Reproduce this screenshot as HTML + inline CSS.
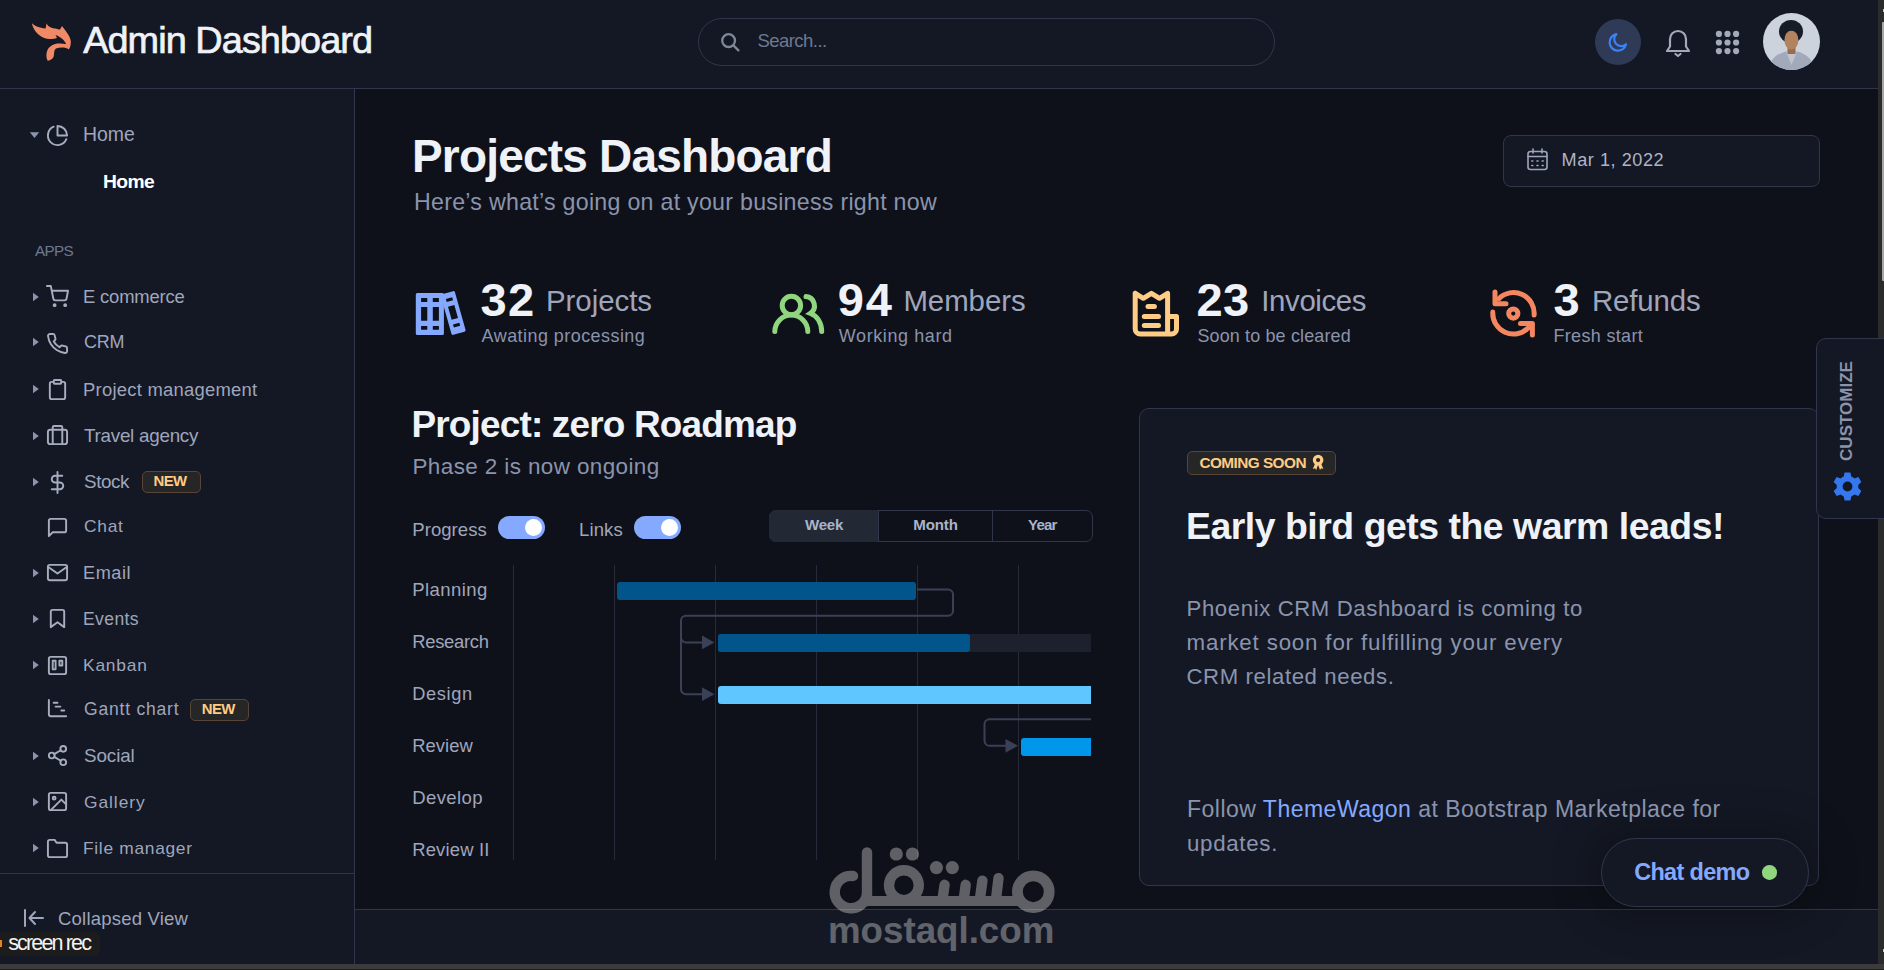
<!DOCTYPE html>
<html><head><meta charset="utf-8">
<style>
*{box-sizing:border-box}
html,body{margin:0;padding:0}
body{width:1884px;height:970px;overflow:hidden;position:relative;background:#0f111a;font-family:"Liberation Sans",sans-serif}
.a{position:absolute}
.t{position:absolute;white-space:nowrap}
svg.i{position:absolute;overflow:visible}
</style></head><body>
<!-- panels -->
<div class="a" style="left:0;top:0;width:1878px;height:88px;background:#141824"></div>
<div class="a" style="left:0;top:88px;width:1878px;height:1px;background:#31374a"></div>
<div class="a" style="left:0;top:89px;width:354px;height:875px;background:#141824"></div>
<div class="a" style="left:354px;top:89px;width:1px;height:875px;background:#31374a"></div>
<div class="a" style="left:0;top:873px;width:354px;height:1px;background:#31374a"></div>
<div class="a" style="left:355px;top:909px;width:1523px;height:1px;background:#31374a"></div>
<div class="a" style="left:355px;top:910px;width:1523px;height:54px;background:#141824"></div>
<!-- scrollbars -->
<div class="a" style="left:1878px;top:0;width:6px;height:964px;background:#2b2b2b"></div>
<div class="a" style="left:1882px;top:22px;width:2px;height:259px;background:#a6a6a6;border-radius:1px 0 0 1px"></div>
<div class="a" style="left:1883px;top:9px;width:1px;height:3px;background:#c8c8c8"></div>
<div class="a" style="left:1883px;top:949px;width:1px;height:3px;background:#c8c8c8"></div>
<div class="a" style="left:0;top:964px;width:1884px;height:5px;background:#3b3b3b"></div>
<div class="a" style="left:0;top:969px;width:1884px;height:1px;background:#1e1e1e"></div>

<!-- logo -->
<svg class="i" style="left:26px;top:16px" width="54" height="50" viewBox="0 0 54 50">
<path fill="#f08a66" d="M5.9 7.2 C9 10,13 12,19.6 12.4 L20.6 7.2 C21.5 10,24 11.5,29 12.5 C31 13,33 13.5,34 13.5 L36 10 C38 13,44 19,44.8 25 C45 29,44 32,42.8 33.5 C40 31,34 31,30 32.5 C27.5 34,28.5 39,27.5 41 C26 43.5,23.5 44.8,21.6 44.8 C20 42,20 37,21.5 34 C23.5 30,28 27.5,33 27.5 C36 27.5,39 28.3,40 27.7 C38 24,35 21,29.5 19 L31 22 C27 23.5,22 23.5,17 21.5 C11 18.5,7 13,5.9 7.2 Z"/>
</svg>

<!-- search -->
<div class="a" style="left:698px;top:18px;width:577px;height:48px;border:1px solid #31374a;border-radius:24px"></div>
<svg class="i" style="left:720px;top:32px" width="21" height="21" viewBox="0 0 21 21" fill="none" stroke="#7f8799" stroke-width="2.3" stroke-linecap="round">
<circle cx="8.6" cy="8.6" r="6.4"/><line x1="13.4" y1="13.4" x2="18.4" y2="18.4"/></svg>

<!-- right header icons -->
<div class="a" style="left:1595px;top:19px;width:46px;height:46px;border-radius:50%;background:#2f3a57"></div>
<svg class="i" style="left:1606px;top:30px" width="24" height="24" viewBox="0 0 24 24" fill="none" stroke="#3a82f7" stroke-width="2.2" stroke-linecap="round" stroke-linejoin="round">
<path d="M20 14.2A8.3 8.3 0 1 1 10.3 4.2 6.6 6.6 0 0 0 20 14.2z"/></svg>
<svg class="i" style="left:1665px;top:28px" width="26" height="29" viewBox="0 0 26 29" fill="none" stroke="#a3a9b8" stroke-width="2.2" stroke-linecap="round" stroke-linejoin="round">
<path d="M2 23 H24 L21 18.5 V11 A8 8 0 0 0 5 11 V18.5 Z"/><path d="M10.5 26 L13 28 L15.5 26"/></svg>
<svg class="i" style="left:1715px;top:30px" width="25" height="25" viewBox="0 0 25 25" fill="#a3a9b8">
<circle cx="3.9" cy="3.9" r="3.1"/><circle cx="12.5" cy="3.9" r="3.1"/><circle cx="21.1" cy="3.9" r="3.1"/>
<circle cx="3.9" cy="12.5" r="3.1"/><circle cx="12.5" cy="12.5" r="3.1"/><circle cx="21.1" cy="12.5" r="3.1"/>
<circle cx="3.9" cy="21.1" r="3.1"/><circle cx="12.5" cy="21.1" r="3.1"/><circle cx="21.1" cy="21.1" r="3.1"/></svg>
<svg class="i" style="left:1763px;top:13px" width="57" height="57" viewBox="0 0 57 57">
<defs><clipPath id="av"><circle cx="28.5" cy="28.5" r="28.5"/></clipPath></defs>
<g clip-path="url(#av)">
<rect width="57" height="57" fill="#cdd3dc"/>
<path d="M5 57 C7 46,14 41,22.5 38.5 L34.5 38.5 C43 41,50 46,52 57 Z" fill="#a1a9bb"/>
<path d="M23 38.5 L28.5 52 L34 38.5 Z" fill="#bfc5d0"/>
<rect x="24.5" y="32" width="8" height="9" fill="#9a6a4a"/>
<ellipse cx="28" cy="18.5" rx="12" ry="11.5" fill="#171c27"/>
<ellipse cx="28.4" cy="27" rx="7" ry="9.5" fill="#b3825f"/>
<path d="M20 21 C21 15,24 13.5,28.5 13.5 C33 13.5,36 15,37 21 C34 18,31 17.5,28.5 17.5 C26 17.5,23 18,20 21Z" fill="#171c27"/>
</g></svg>

<!-- sidebar carets -->
<svg class="i" style="left:29px;top:131px" width="11" height="8" viewBox="0 0 11 8"><path d="M0.8 1.2 H10.2 L5.5 7 Z" fill="#8a94ad"/></svg>
<svg class="i" style="left:32px;top:291.60px" width="8" height="10" viewBox="0 0 8 10"><path d="M1 0.8 V9.2 L6.8 5 Z" fill="#8a94ad"/></svg>
<svg class="i" style="left:32px;top:337.40px" width="8" height="10" viewBox="0 0 8 10"><path d="M1 0.8 V9.2 L6.8 5 Z" fill="#8a94ad"/></svg>
<svg class="i" style="left:32px;top:384.30px" width="8" height="10" viewBox="0 0 8 10"><path d="M1 0.8 V9.2 L6.8 5 Z" fill="#8a94ad"/></svg>
<svg class="i" style="left:32px;top:431.00px" width="8" height="10" viewBox="0 0 8 10"><path d="M1 0.8 V9.2 L6.8 5 Z" fill="#8a94ad"/></svg>
<svg class="i" style="left:32px;top:476.80px" width="8" height="10" viewBox="0 0 8 10"><path d="M1 0.8 V9.2 L6.8 5 Z" fill="#8a94ad"/></svg>
<svg class="i" style="left:32px;top:567.80px" width="8" height="10" viewBox="0 0 8 10"><path d="M1 0.8 V9.2 L6.8 5 Z" fill="#8a94ad"/></svg>
<svg class="i" style="left:32px;top:613.60px" width="8" height="10" viewBox="0 0 8 10"><path d="M1 0.8 V9.2 L6.8 5 Z" fill="#8a94ad"/></svg>
<svg class="i" style="left:32px;top:660.00px" width="8" height="10" viewBox="0 0 8 10"><path d="M1 0.8 V9.2 L6.8 5 Z" fill="#8a94ad"/></svg>
<svg class="i" style="left:32px;top:750.50px" width="8" height="10" viewBox="0 0 8 10"><path d="M1 0.8 V9.2 L6.8 5 Z" fill="#8a94ad"/></svg>
<svg class="i" style="left:32px;top:796.80px" width="8" height="10" viewBox="0 0 8 10"><path d="M1 0.8 V9.2 L6.8 5 Z" fill="#8a94ad"/></svg>
<svg class="i" style="left:32px;top:843.20px" width="8" height="10" viewBox="0 0 8 10"><path d="M1 0.8 V9.2 L6.8 5 Z" fill="#8a94ad"/></svg>
<svg class="i" style="left:46.00px;top:124.10px" width="23" height="23" viewBox="0 0 24 24" fill="none" stroke="#a7adbf" stroke-width="2" stroke-linecap="round" stroke-linejoin="round"><path d="M21.21 15.89A10 10 0 1 1 8 2.83"/><path d="M22 12A10 10 0 0 0 12 2v10z"/></svg>
<svg class="i" style="left:46.40px;top:284.50px" width="23" height="23" viewBox="0 0 24 24" fill="none" stroke="#a7adbf" stroke-width="2" stroke-linecap="round" stroke-linejoin="round"><circle cx="9" cy="21" r="1"/><circle cx="20" cy="21" r="1"/><path d="M1 1h4l2.68 13.39a2 2 0 0 0 2 1.61h9.72a2 2 0 0 0 2-1.61L23 6H6"/></svg>
<svg class="i" style="left:46.00px;top:332.00px" width="23" height="23" viewBox="0 0 24 24" fill="none" stroke="#a7adbf" stroke-width="2" stroke-linecap="round" stroke-linejoin="round"><path d="M22 16.92v3a2 2 0 0 1-2.18 2 19.79 19.79 0 0 1-8.63-3.07 19.5 19.5 0 0 1-6-6 19.79 19.79 0 0 1-3.07-8.67A2 2 0 0 1 4.11 2h3a2 2 0 0 1 2 1.72 12.84 12.84 0 0 0 .7 2.81 2 2 0 0 1-.45 2.11L8.09 9.91a16 16 0 0 0 6 6l1.27-1.27a2 2 0 0 1 2.11-.45 12.84 12.84 0 0 0 2.81.7A2 2 0 0 1 22 16.92z"/></svg>
<svg class="i" style="left:46.00px;top:377.90px" width="23" height="23" viewBox="0 0 24 24" fill="none" stroke="#a7adbf" stroke-width="2" stroke-linecap="round" stroke-linejoin="round"><path d="M16 4h2a2 2 0 0 1 2 2v14a2 2 0 0 1-2 2H6a2 2 0 0 1-2-2V6a2 2 0 0 1 2-2h2"/><rect x="8" y="2" width="8" height="4" rx="1" ry="1"/></svg>
<svg class="i" style="left:46.00px;top:424.20px" width="23" height="23" viewBox="0 0 24 24" fill="none" stroke="#a7adbf" stroke-width="2" stroke-linecap="round" stroke-linejoin="round"><rect x="2" y="6" width="20" height="15" rx="2.5"/><path d="M7 21V3.5a1.5 1.5 0 0 1 1.5-1.5h7a1.5 1.5 0 0 1 1.5 1.5V21"/></svg>
<svg class="i" style="left:46.00px;top:471.00px" width="23" height="23" viewBox="0 0 24 24" fill="none" stroke="#a7adbf" stroke-width="2" stroke-linecap="round" stroke-linejoin="round"><line x1="12" y1="1" x2="12" y2="23"/><path d="M17 5H9.5a3.5 3.5 0 0 0 0 7h5a3.5 3.5 0 0 1 0 7H6"/></svg>
<svg class="i" style="left:46.00px;top:516.00px" width="23" height="23" viewBox="0 0 24 24" fill="none" stroke="#a7adbf" stroke-width="2" stroke-linecap="round" stroke-linejoin="round"><path d="M21 15a2 2 0 0 1-2 2H7l-4 4V5a2 2 0 0 1 2-2h14a2 2 0 0 1 2 2z"/></svg>
<svg class="i" style="left:46.10px;top:561.00px" width="23" height="23" viewBox="0 0 24 24" fill="none" stroke="#a7adbf" stroke-width="2" stroke-linecap="round" stroke-linejoin="round"><path d="M4 4h16c1.1 0 2 .9 2 2v12c0 1.1-.9 2-2 2H4c-1.1 0-2-.9-2-2V6c0-1.1.9-2 2-2z"/><polyline points="22,6 12,13 2,6"/></svg>
<svg class="i" style="left:46.10px;top:607.10px" width="23" height="23" viewBox="0 0 24 24" fill="none" stroke="#a7adbf" stroke-width="2" stroke-linecap="round" stroke-linejoin="round"><path d="M19 21l-7-5-7 5V5a2 2 0 0 1 2-2h10a2 2 0 0 1 2 2z"/></svg>
<svg class="i" style="left:46.00px;top:654.00px" width="23" height="23" viewBox="0 0 24 24" fill="none" stroke="#a7adbf" stroke-width="2" stroke-linecap="round" stroke-linejoin="round"><rect x="3" y="3" width="18" height="18" rx="2" ry="2"/><rect x="7" y="7" width="3" height="9"/><rect x="14" y="7" width="3" height="5"/></svg>
<svg class="i" style="left:45.90px;top:696.70px" width="23" height="23" viewBox="0 0 24 24" fill="none" stroke="#a7adbf" stroke-width="2" stroke-linecap="round" stroke-linejoin="round"><path d="M3 3v15a2 2 0 0 0 2 2h16"/><line x1="8" y1="6" x2="12" y2="6"/><line x1="10" y1="10" x2="15" y2="10"/><line x1="16" y1="14" x2="19" y2="14"/></svg>
<svg class="i" style="left:46.00px;top:743.90px" width="23" height="23" viewBox="0 0 24 24" fill="none" stroke="#a7adbf" stroke-width="2" stroke-linecap="round" stroke-linejoin="round"><circle cx="18" cy="5" r="3"/><circle cx="6" cy="12" r="3"/><circle cx="18" cy="19" r="3"/><line x1="8.59" y1="13.51" x2="15.42" y2="17.49"/><line x1="15.41" y1="6.51" x2="8.59" y2="10.49"/></svg>
<svg class="i" style="left:46.20px;top:790.30px" width="23" height="23" viewBox="0 0 24 24" fill="none" stroke="#a7adbf" stroke-width="2" stroke-linecap="round" stroke-linejoin="round"><rect x="3" y="3" width="18" height="18" rx="2" ry="2"/><circle cx="8.5" cy="8.5" r="1.5"/><polyline points="21 15 16 10 5 21"/></svg>
<svg class="i" style="left:46.10px;top:837.20px" width="23" height="23" viewBox="0 0 24 24" fill="none" stroke="#a7adbf" stroke-width="2" stroke-linecap="round" stroke-linejoin="round"><path d="M22 19a2 2 0 0 1-2 2H4a2 2 0 0 1-2-2V5a2 2 0 0 1 2-2h5l2 3h9a2 2 0 0 1 2 2z"/></svg>

<!-- badges -->
<div class="a" style="left:142px;top:471px;width:59px;height:22px;border-radius:5px;background:#262626;border:1px solid #584535"></div>
<div class="a" style="left:190px;top:699px;width:59px;height:22px;border-radius:5px;background:#262626;border:1px solid #584535"></div>

<!-- collapsed view icon -->
<svg class="i" style="left:22px;top:907px" width="24" height="22" viewBox="0 0 24 22" fill="none" stroke="#9fa6bc" stroke-width="2" stroke-linecap="round" stroke-linejoin="round">
<line x1="3" y1="3" x2="3" y2="19"/><line x1="8" y1="11" x2="21" y2="11"/><path d="M13 5 L7.5 11 L13 17"/></svg>

<!-- date box -->
<div class="a" style="left:1503px;top:135px;width:317px;height:52px;border:1px solid #31374a;border-radius:8px;background:#141824"></div>
<svg class="i" style="left:1526px;top:148px" width="23" height="23" viewBox="0 0 23 23" fill="none" stroke="#9fa6bc" stroke-width="1.6" stroke-linecap="round">
<rect x="2" y="3.5" width="19" height="18" rx="2.5"/><line x1="2" y1="8.5" x2="21" y2="8.5"/><line x1="7" y1="1" x2="7" y2="5"/><line x1="16" y1="1" x2="16" y2="5"/>
<line x1="5.8" y1="13" x2="6.8" y2="13"/><line x1="11" y1="13" x2="12" y2="13"/><line x1="16.2" y1="13" x2="17.2" y2="13"/>
<line x1="5.8" y1="17.5" x2="6.8" y2="17.5"/><line x1="11" y1="17.5" x2="12" y2="17.5"/><line x1="16.2" y1="17.5" x2="17.2" y2="17.5"/></svg>

<!-- stat icons -->
<svg class="i" style="left:410px;top:286px" width="60" height="54" viewBox="0 0 60 54">
<path fill="#85a9ff" fill-rule="evenodd" d="M7.3 7 H32.4 A1.5 1.5 0 0 1 33.9 8.5 V47.5 A1.5 1.5 0 0 1 32.4 49 H7.3 A1.5 1.5 0 0 1 5.8 47.5 V8.5 A1.5 1.5 0 0 1 7.3 7 Z M11.1 12 V15.9 H17.3 V12 Z M22.8 12 V15.9 H28.9 V12 Z M11.1 21 V34.8 H17.3 V21 Z M22.8 21 V34.8 H28.9 V21 Z M11.1 40 V43.7 H17.3 V40 Z M22.8 40 V43.7 H28.9 V40 Z"/>
<g transform="translate(43.2 27) rotate(-15.7)">
<path fill="#85a9ff" fill-rule="evenodd" d="M-5.8 -21 H5.8 A1.5 1.5 0 0 1 7.3 -19.5 V19.5 A1.5 1.5 0 0 1 5.8 21 H-5.8 A1.5 1.5 0 0 1 -7.3 19.5 V-19.5 A1.5 1.5 0 0 1 -5.8 -21 Z M-3.3 -15.5 V-12.3 H3.3 V-15.5 Z M-3.3 -7.5 V6 H3.3 V-7.5 Z M-3.3 11 V14.2 H3.3 V11 Z"/>
</g></svg>
<svg class="i" style="left:768px;top:286px" width="60" height="54" viewBox="0 0 60 54" fill="none" stroke="#90d67f" stroke-width="5" stroke-linecap="round">
<circle cx="23.4" cy="19.5" r="9.2"/><path d="M6.8 45.6 A16.5 16.5 0 0 1 39.8 45.6"/>
<path d="M38 10.6 A9.2 9.2 0 0 1 42.5 27.3 C49 29.5,53.7 37,53.7 45.6"/></svg>
<svg class="i" style="left:1126px;top:284px" width="60" height="58" viewBox="0 0 60 58" fill="none" stroke="#ffcc85" stroke-width="5" stroke-linecap="round" stroke-linejoin="round">
<path d="M9.2 9.3 L17.3 14.3 L25.4 9.3 L33.5 14.3 L41.6 9.3 V47 M9.2 9.3 V45 A5 5 0 0 0 14.2 50 H45.5 A5 5 0 0 0 50.5 45 V32.5 H41.6"/>
<line x1="22" y1="22.4" x2="28.4" y2="22.4"/><line x1="18.3" y1="32.6" x2="32.5" y2="32.6"/><line x1="18.3" y1="41.6" x2="32.5" y2="41.6"/></svg>
<svg class="i" style="left:1484px;top:284px" width="60" height="58" viewBox="0 0 60 58" fill="none" stroke="#f4875f" stroke-width="5" stroke-linecap="round" stroke-linejoin="round">
<path d="M14.86 14.66 A20.7 20.7 0 0 1 50.12 31.1"/><path d="M11 8 V19.7 H22"/>
<path d="M8.8 28.1 A20.7 20.7 0 0 0 44.14 43.94"/><path d="M36.5 39.5 H48.4 V51"/>
<circle cx="29.3" cy="29.6" r="4.6"/></svg>

<!-- toggles -->
<div class="a" style="left:498px;top:516px;width:47px;height:23px;border-radius:12px;background:#85a9ff"></div>
<div class="a" style="left:525px;top:519px;width:17px;height:17px;border-radius:50%;background:#fff"></div>
<div class="a" style="left:634px;top:516px;width:47px;height:23px;border-radius:12px;background:#85a9ff"></div>
<div class="a" style="left:661px;top:519px;width:17px;height:17px;border-radius:50%;background:#fff"></div>

<!-- button group -->
<div class="a" style="left:769px;top:510px;width:324px;height:32px;border:1px solid #31374a;border-radius:7px;background:#0f111a"></div>
<div class="a" style="left:769px;top:510px;width:110px;height:32px;border-radius:7px 0 0 7px;background:#222834"></div>
<div class="a" style="left:878px;top:510px;width:1px;height:32px;background:#31374a"></div>
<div class="a" style="left:992px;top:510px;width:1px;height:32px;background:#31374a"></div>

<!-- gantt -->
<svg class="i" style="left:0;top:0" width="1884" height="970" viewBox="0 0 1884 970">
<g stroke="#262b3b" stroke-width="1">
<line x1="513.5" y1="565" x2="513.5" y2="860"/><line x1="614.5" y1="565" x2="614.5" y2="860"/><line x1="715.5" y1="565" x2="715.5" y2="860"/>
<line x1="816.5" y1="565" x2="816.5" y2="860"/><line x1="917.5" y1="565" x2="917.5" y2="860"/><line x1="1018.5" y1="565" x2="1018.5" y2="860"/>
</g>
<defs><clipPath id="gc"><rect x="0" y="0" width="1091" height="970"/></clipPath></defs>
<g clip-path="url(#gc)">
<rect x="617" y="582" width="299" height="18" rx="3" fill="#01558a"/>
<rect x="718" y="634" width="373" height="18" fill="#1c212d"/>
<rect x="718" y="634" width="252" height="18" rx="3" fill="#01558a"/>
<rect x="718" y="686" width="390" height="18" rx="3" fill="#60c6ff"/>
<rect x="1021" y="738" width="90" height="18" rx="3" fill="#0097eb"/>
</g>
<g fill="none" stroke="#3a4156" stroke-width="2" stroke-linejoin="round">
<path d="M917 589.5 H948 A5 5 0 0 1 953 594.5 V610.8 A5 5 0 0 1 948 615.8 H686 A5 5 0 0 0 681 620.8 V637.4 A5 5 0 0 0 686 642.4 H704"/>
<path d="M681 637 V689.2 A5 5 0 0 0 686 694.2 H704"/>
<path d="M1091 719.2 H989.5 A5 5 0 0 0 984.5 724.2 V740.8 A5 5 0 0 0 989.5 745.8 H1007"/>
</g>
<g fill="#3a4156">
<path d="M702 635.5 L714.5 642.4 L702 649.3 Z"/><path d="M702 687.3 L714.5 694.2 L702 701.1 Z"/><path d="M1005.5 738.9 L1018 745.8 L1005.5 752.7 Z"/>
</g>
</svg>

<!-- card -->
<div class="a" style="left:1139px;top:408px;width:680px;height:478px;border:1px solid #31374a;border-radius:10px;background:#141824"></div>
<div class="a" style="left:1187px;top:451px;width:149px;height:24px;border-radius:5px;background:#262626;border:1px solid #584535"></div>
<svg class="i" style="left:1311px;top:454px" width="15" height="17" viewBox="0 0 15 17">
<path d="M4.2 9.2 L1.8 15 L4 14.2 L5.2 16 L7.2 10.6 Z M10 9.2 L12.4 15 L10.2 14.2 L9 16 L7 10.6 Z" fill="#ffcc85"/>
<circle cx="7.1" cy="6.1" r="3.7" fill="none" stroke="#ffcc85" stroke-width="3.2"/></svg>

<!-- customize tab -->
<div class="a" style="left:1816px;top:338px;width:70px;height:181px;border:1px solid #31374a;border-radius:10px 0 0 10px;background:#141824"></div>
<div class="t" style="left:1846.2px;top:410.5px;transform:translate(-50%,-50%) rotate(-90deg);font-size:17px;line-height:17px;font-weight:700;color:#8a94ad;letter-spacing:0px">CUSTOMIZE</div>
<svg class="i" style="left:1832px;top:471px" width="31" height="31" viewBox="0 0 31 31">
<path fill="#3577ef" fill-rule="evenodd" d="M12.6 1.5 H18.4 L19.3 5.6 A10.5 10.5 0 0 1 22.4 7.4 L26.4 6.1 L29.3 11.1 L26.2 13.9 A10.5 10.5 0 0 1 26.2 17.1 L29.3 19.9 L26.4 24.9 L22.4 23.6 A10.5 10.5 0 0 1 19.3 25.4 L18.4 29.5 H12.6 L11.7 25.4 A10.5 10.5 0 0 1 8.6 23.6 L4.6 24.9 L1.7 19.9 L4.8 17.1 A10.5 10.5 0 0 1 4.8 13.9 L1.7 11.1 L4.6 6.1 L8.6 7.4 A10.5 10.5 0 0 1 11.7 5.6 Z M15.5 10.6 A4.9 4.9 0 1 0 15.5 20.4 A4.9 4.9 0 1 0 15.5 10.6 Z"/></svg>

<!-- chat demo -->
<div class="a" style="left:1601px;top:838px;width:208px;height:69px;border:1px solid #31374a;border-radius:35px;background:#141824;box-shadow:0 0 40px 10px rgba(0,0,0,0.25)"></div>
<div class="a" style="left:1762px;top:865px;width:14.6px;height:14.6px;border-radius:50%;background:#90d67f"></div>

<!-- watermark -->
<svg class="i" style="left:0;top:0" width="1884" height="970" viewBox="0 0 1884 970">
<g opacity="0.33">
<g fill="none" stroke="#fff" stroke-width="10.4" stroke-linecap="round">
<path d="M853 876 A16.2 16.2 0 1 0 867 894"/>
<line x1="867" y1="852.5" x2="867" y2="901"/>
<line x1="866" y1="901" x2="1019" y2="901" stroke-linecap="butt" stroke-width="10"/>
<circle cx="903.9" cy="885.2" r="14.9"/>
<line x1="942.4" y1="900" x2="944.6" y2="884.8"/><line x1="963.7" y1="900" x2="965.7" y2="884.8"/>
<line x1="979.8" y1="900" x2="982.4" y2="880.7"/><line x1="995.9" y1="900" x2="998.5" y2="878.2"/>
<circle cx="1033.3" cy="891.7" r="15.9" stroke-width="10.8"/>
</g>
<g fill="#fff"><circle cx="896.3" cy="854" r="6.6"/><circle cx="912.4" cy="854" r="6.6"/><circle cx="936.4" cy="867.6" r="6.6"/><circle cx="952.3" cy="867.6" r="6.6"/></g>
<text x="828" y="943" font-family="Liberation Sans" font-weight="700" font-size="36.7" fill="#fff">mostaql.com</text>
</g></svg>

<!-- screen rec -->
<div class="a" style="left:0;top:932px;width:100px;height:24px;background:#1c1c1c;border-radius:0 6px 6px 0"></div>
<div class="a" style="left:0;top:940px;width:1.5px;height:7px;background:#e8821e"></div>

<div class="t" style="left:83.20px;top:22.18px;font-size:37.83px;line-height:37.83px;font-weight:400;color:#eff2f6;letter-spacing:-0.925px;-webkit-text-stroke:0.7px #eff2f6;">Admin Dashboard</div>
<div class="t" style="left:757.40px;top:32.00px;font-size:18.55px;line-height:18.55px;font-weight:400;color:#6e7891;letter-spacing:-0.552px;">Search...</div>
<div class="t" style="left:83.00px;top:125.36px;font-size:19.42px;line-height:19.42px;font-weight:400;color:#9fa6bc;letter-spacing:0.009px;">Home</div>
<div class="t" style="left:103.00px;top:172.28px;font-size:19.28px;line-height:19.28px;font-weight:700;color:#ffffff;letter-spacing:-0.604px;">Home</div>
<div class="t" style="left:35.00px;top:243.22px;font-size:15.22px;line-height:15.22px;font-weight:400;color:#6e7891;letter-spacing:-0.617px;">APPS</div>
<div class="t" style="left:83.00px;top:288.12px;font-size:18.41px;line-height:18.41px;font-weight:400;color:#9fa6bc;letter-spacing:-0.163px;">E commerce</div>
<div class="t" style="left:84.00px;top:334.09px;font-size:17.97px;line-height:17.97px;font-weight:400;color:#9fa6bc;letter-spacing:-0.265px;">CRM</div>
<div class="t" style="left:83.00px;top:380.82px;font-size:18.41px;line-height:18.41px;font-weight:400;color:#9fa6bc;letter-spacing:0.252px;">Project management</div>
<div class="t" style="left:84.00px;top:427.25px;font-size:18.84px;line-height:18.84px;font-weight:400;color:#9fa6bc;letter-spacing:-0.262px;">Travel agency</div>
<div class="t" style="left:84.00px;top:473.05px;font-size:18.84px;line-height:18.84px;font-weight:400;color:#9fa6bc;letter-spacing:-0.419px;">Stock</div>
<div class="t" style="left:84.00px;top:517.98px;font-size:17.39px;line-height:17.39px;font-weight:400;color:#9fa6bc;letter-spacing:0.709px;">Chat</div>
<div class="t" style="left:83.00px;top:564.36px;font-size:18.12px;line-height:18.12px;font-weight:400;color:#9fa6bc;letter-spacing:0.560px;">Email</div>
<div class="t" style="left:83.00px;top:610.56px;font-size:17.54px;line-height:17.54px;font-weight:400;color:#9fa6bc;letter-spacing:0.394px;">Events</div>
<div class="t" style="left:83.00px;top:656.98px;font-size:17.39px;line-height:17.39px;font-weight:400;color:#9fa6bc;letter-spacing:0.792px;">Kanban</div>
<div class="t" style="left:84.00px;top:700.56px;font-size:17.54px;line-height:17.54px;font-weight:400;color:#9fa6bc;letter-spacing:0.785px;">Gantt chart</div>
<div class="t" style="left:84.00px;top:746.75px;font-size:18.84px;line-height:18.84px;font-weight:400;color:#9fa6bc;letter-spacing:-0.100px;">Social</div>
<div class="t" style="left:84.00px;top:793.78px;font-size:17.39px;line-height:17.39px;font-weight:400;color:#9fa6bc;letter-spacing:0.942px;">Gallery</div>
<div class="t" style="left:83.00px;top:840.18px;font-size:17.39px;line-height:17.39px;font-weight:400;color:#9fa6bc;letter-spacing:0.690px;">File manager</div>
<div class="t" style="left:153.60px;top:474.06px;font-size:14.93px;line-height:14.93px;font-weight:700;color:#ffcc85;letter-spacing:-0.664px;">NEW</div>
<div class="t" style="left:201.80px;top:701.96px;font-size:14.93px;line-height:14.93px;font-weight:700;color:#ffcc85;letter-spacing:-0.664px;">NEW</div>
<div class="t" style="left:58.00px;top:909.80px;font-size:18.55px;line-height:18.55px;font-weight:400;color:#9fa6bc;letter-spacing:0.192px;">Collapsed View</div>
<div class="t" style="left:412.00px;top:133.81px;font-size:45.94px;line-height:45.94px;font-weight:700;color:#eff2f6;letter-spacing:-0.778px;">Projects Dashboard</div>
<div class="t" style="left:414.00px;top:191.07px;font-size:23.19px;line-height:23.19px;font-weight:400;color:#8a94ad;letter-spacing:0.273px;">Here’s what’s going on at your business right now</div>
<div class="t" style="left:1561.60px;top:151.26px;font-size:18.12px;line-height:18.12px;font-weight:400;color:#aeb5c6;letter-spacing:0.533px;">Mar 1, 2022</div>
<div class="t" style="left:480.60px;top:275.93px;font-size:47.10px;line-height:47.10px;font-weight:700;color:#eff2f6;letter-spacing:1.309px;">32</div>
<div class="t" style="left:546.00px;top:286.20px;font-size:29.42px;line-height:29.42px;font-weight:400;color:#9fa6bc;letter-spacing:-0.032px;">Projects</div>
<div class="t" style="left:481.60px;top:328.09px;font-size:17.97px;line-height:17.97px;font-weight:400;color:#8a94ad;letter-spacing:0.461px;">Awating processing</div>
<div class="t" style="left:837.80px;top:275.93px;font-size:47.10px;line-height:47.10px;font-weight:700;color:#eff2f6;letter-spacing:1.809px;">94</div>
<div class="t" style="left:903.40px;top:286.20px;font-size:29.42px;line-height:29.42px;font-weight:400;color:#9fa6bc;letter-spacing:-0.041px;">Members</div>
<div class="t" style="left:838.80px;top:328.09px;font-size:17.97px;line-height:17.97px;font-weight:400;color:#8a94ad;letter-spacing:0.613px;">Working hard</div>
<div class="t" style="left:1196.40px;top:275.93px;font-size:47.10px;line-height:47.10px;font-weight:700;color:#eff2f6;letter-spacing:0.409px;">23</div>
<div class="t" style="left:1261.30px;top:286.20px;font-size:29.42px;line-height:29.42px;font-weight:400;color:#9fa6bc;letter-spacing:-0.382px;">Invoices</div>
<div class="t" style="left:1197.40px;top:328.09px;font-size:17.97px;line-height:17.97px;font-weight:400;color:#8a94ad;letter-spacing:0.151px;">Soon to be cleared</div>
<div class="t" style="left:1553.50px;top:275.93px;font-size:47.10px;line-height:47.10px;font-weight:700;color:#eff2f6;letter-spacing:0.500px;">3</div>
<div class="t" style="left:1592.00px;top:286.20px;font-size:29.42px;line-height:29.42px;font-weight:400;color:#9fa6bc;letter-spacing:-0.137px;">Refunds</div>
<div class="t" style="left:1553.50px;top:328.09px;font-size:17.97px;line-height:17.97px;font-weight:400;color:#8a94ad;letter-spacing:0.339px;">Fresh start</div>
<div class="t" style="left:411.50px;top:406.62px;font-size:36.96px;line-height:36.96px;font-weight:700;color:#eff2f6;letter-spacing:-0.834px;">Project: zero Roadmap</div>
<div class="t" style="left:412.50px;top:455.58px;font-size:22.46px;line-height:22.46px;font-weight:400;color:#8a94ad;letter-spacing:0.394px;">Phase 2 is now ongoing</div>
<div class="t" style="left:412.30px;top:520.80px;font-size:18.55px;line-height:18.55px;font-weight:400;color:#9fa6bc;letter-spacing:0.045px;">Progress</div>
<div class="t" style="left:579.00px;top:520.80px;font-size:18.55px;line-height:18.55px;font-weight:400;color:#9fa6bc;letter-spacing:0.101px;">Links</div>
<div class="t" style="left:805.00px;top:516.54px;font-size:15.07px;line-height:15.07px;font-weight:700;color:#aab3c8;letter-spacing:-0.233px;">Week</div>
<div class="t" style="left:913.30px;top:516.54px;font-size:15.07px;line-height:15.07px;font-weight:700;color:#aab3c8;letter-spacing:-0.141px;">Month</div>
<div class="t" style="left:1028.00px;top:516.54px;font-size:15.07px;line-height:15.07px;font-weight:700;color:#aab3c8;letter-spacing:-0.823px;">Year</div>
<div class="t" style="left:412.20px;top:581.20px;font-size:18.55px;line-height:18.55px;font-weight:400;color:#9fa6bc;letter-spacing:0.412px;">Planning</div>
<div class="t" style="left:412.20px;top:633.42px;font-size:18.41px;line-height:18.41px;font-weight:400;color:#9fa6bc;letter-spacing:-0.291px;">Research</div>
<div class="t" style="left:412.20px;top:685.24px;font-size:18.26px;line-height:18.26px;font-weight:400;color:#9fa6bc;letter-spacing:0.608px;">Design</div>
<div class="t" style="left:412.20px;top:737.32px;font-size:18.41px;line-height:18.41px;font-weight:400;color:#9fa6bc;letter-spacing:0.048px;">Review</div>
<div class="t" style="left:412.20px;top:789.10px;font-size:18.55px;line-height:18.55px;font-weight:400;color:#9fa6bc;letter-spacing:0.386px;">Develop</div>
<div class="t" style="left:412.20px;top:841.22px;font-size:18.41px;line-height:18.41px;font-weight:400;color:#9fa6bc;letter-spacing:0.190px;">Review II</div>
<div class="t" style="left:1199.40px;top:454.90px;font-size:15.36px;line-height:15.36px;font-weight:700;color:#ffcc85;letter-spacing:-0.555px;">COMING SOON</div>
<div class="t" style="left:1186.00px;top:507.85px;font-size:37.39px;line-height:37.39px;font-weight:700;color:#eff2f6;letter-spacing:-0.469px;">Early bird gets the warm leads!</div>
<div class="t" style="left:1186.50px;top:597.93px;font-size:22.17px;line-height:22.17px;font-weight:400;color:#8a94ad;letter-spacing:0.613px;">Phoenix CRM Dashboard is coming to</div>
<div class="t" style="left:1186.50px;top:632.22px;font-size:22.30px;line-height:22.30px;font-weight:400;color:#8a94ad;letter-spacing:0.831px;">market soon for fulfilling your every</div>
<div class="t" style="left:1186.50px;top:665.73px;font-size:22.17px;line-height:22.17px;font-weight:400;color:#8a94ad;letter-spacing:0.607px;">CRM related needs.</div>
<div class="t" style="left:1187.00px;top:798.39px;font-size:23.04px;line-height:23.04px;font-weight:400;color:#8a94ad;letter-spacing:0.471px;"><span style="color:#8a94ad">Follow </span><span style="color:#85a9ff">ThemeWagon</span><span style="color:#8a94ad"> at Bootstrap Marketplace for</span></div>
<div class="t" style="left:1187.00px;top:832.82px;font-size:22.30px;line-height:22.30px;font-weight:400;color:#8a94ad;letter-spacing:0.693px;">updates.</div>
<div class="t" style="left:1634.20px;top:860.63px;font-size:23.48px;line-height:23.48px;font-weight:700;color:#85a9ff;letter-spacing:-0.678px;">Chat demo</div>
<div class="t" style="left:8.20px;top:931.62px;font-size:21.59px;line-height:21.59px;font-weight:400;color:#f2f2f2;letter-spacing:-1.883px;">screen rec</div>
</body></html>
